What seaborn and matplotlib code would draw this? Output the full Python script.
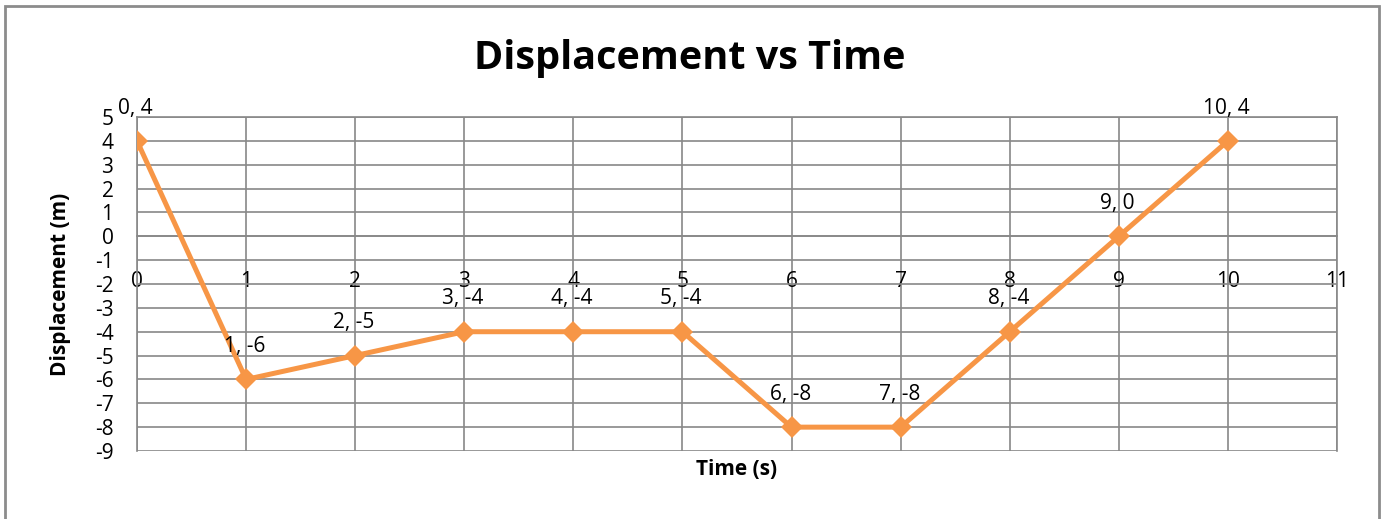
import matplotlib
matplotlib.use("Agg")
import matplotlib.pyplot as plt
import seaborn as sns
import pandas as pd
from matplotlib.patches import Rectangle

# data
time_s = [0, 1, 2, 3, 4, 5, 6, 7, 8, 9, 10]
displacement_m = [4, -6, -5, -4, -4, -4, -8, -8, -4, 0, 4]
x_ticks = list(range(0, 12))
y_ticks = list(range(-9, 6))

ORANGE = "#F79646"
GRID = "#888888"

sns.set_style("white")
plt.rcParams["font.family"] = ["Open Sans", "DejaVu Sans"]
plt.rcParams["axes.unicode_minus"] = False
plt.rcParams["text.color"] = "black"
plt.rcParams["axes.labelcolor"] = "black"
plt.rcParams["xtick.color"] = "black"
plt.rcParams["ytick.color"] = "black"

df = pd.DataFrame({"Time": time_s, "Displacement": displacement_m})

fig = plt.figure(figsize=(13.85, 5.19), dpi=100)
ax = fig.add_axes([137 / 1385, 68 / 519, 1200 / 1385, 334 / 519])

sns.lineplot(data=df, x="Time", y="Displacement", ax=ax, color=ORANGE,
             linewidth=3.6, marker="D", markersize=11, markeredgewidth=0,
             markeredgecolor=ORANGE, zorder=3)

ax.set_xlim(0, 11)
ax.set_ylim(-9, 5)
ax.set_xticks(x_ticks)
ax.set_yticks(y_ticks)
ax.grid(True, color=GRID, linewidth=1.2)
for s in ax.spines.values():
    s.set_color(GRID)
    s.set_linewidth(1.2)
# horizontal axis crosses at y = 0 (Excel style)
ax.spines["bottom"].set_position(("data", 0))
ax.tick_params(axis="x", length=0, pad=25, labelsize=15)
ax.tick_params(axis="y", length=0, pad=17, labelsize=15)

ax.set_xlabel("Time (s)", fontsize=15, fontweight="bold")
ax.xaxis.set_label_coords(0.5, -0.025)
ax.set_ylabel("Displacement (m)", fontsize=15, fontweight="bold")
ax.yaxis.set_label_coords(-0.055, 0.5)

# data labels above the points
for t, d in zip(time_s, displacement_m):
    ax.annotate(f"{t}, {d}", (t, d), textcoords="offset points", xytext=(-1, 16),
                ha="center", va="bottom", fontsize=15, color="black")

fig.text(690 / 1385, 1 - 58 / 519, "Displacement vs Time", ha="center", va="center",
         fontsize=28.5, fontweight="bold")

fig.patches.append(Rectangle((5 / 1385, -0.05), 1374 / 1385, 1.05 - 6 / 519,
                             transform=fig.transFigure, fill=False,
                             edgecolor="#8c8c8c", linewidth=2))

fig.savefig("out.png", dpi=100)
